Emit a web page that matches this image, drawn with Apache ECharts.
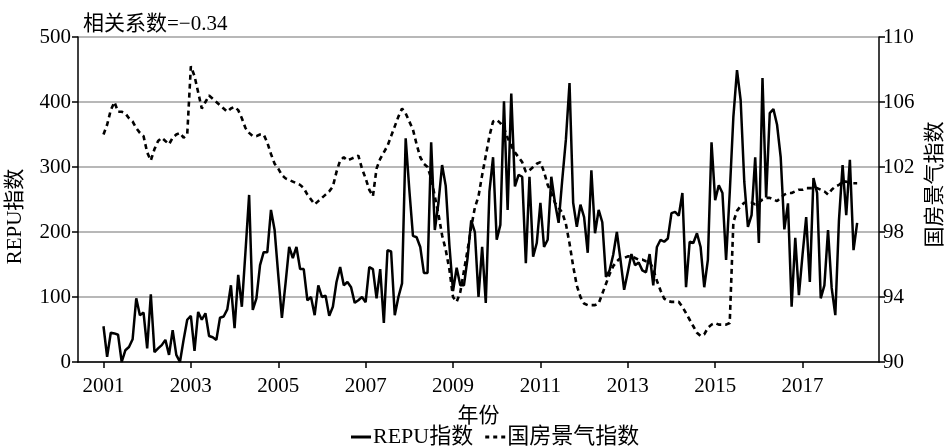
<!DOCTYPE html>
<html>
<head>
<meta charset="utf-8">
<script src="https://cdn.jsdelivr.net/npm/echarts@6/dist/echarts.min.js"></script>
<style>
  html, body { margin: 0; padding: 0; background: #fff; }
  #main { width: 946px; height: 447px; }
</style>
</head>
<body>
<div id="main"></div>
<script>
// 月度数据：2001-01 ~ 2018-04
const startYear = 2001;
const padBefore = 7;  // 2000-06 ~ 2000-12 空位
const padAfter = 6;   // 2018-05 ~ 2018-10 空位
const yearLabels = ['2001', '2003', '2005', '2007', '2009', '2011', '2013', '2015', '2017'];

const repu = [
  55, 8, 45, 44, 42, 0, 18, 23, 35, 98, 72, 76,
  21, 104, 15, 21, 26, 34, 11, 49, 11, 0, 34, 65,
  71, 17, 77, 65, 75, 40, 38, 34, 68, 70, 81, 118,
  52, 134, 85, 170, 257, 80, 98, 149, 169, 169, 234, 203,
  134, 68, 121, 177, 160, 177, 143, 143, 95, 100, 72, 118,
  100, 102, 71, 85, 123, 146, 118, 123, 115, 91, 95, 100,
  92, 146, 143, 98, 143, 60, 172, 170, 72, 100, 121, 344,
  265, 194, 192, 177, 137, 137, 338, 203, 245, 303, 271, 180,
  109, 145, 118, 118, 160, 218, 200, 100, 177, 91, 262, 315,
  188, 211, 401, 234, 413, 270, 288, 285, 152, 285, 162, 183,
  245, 177, 188, 285, 245, 214, 280, 342, 429, 245, 208, 242,
  223, 168, 295, 198, 234, 215, 131, 141, 165, 200, 157, 111,
  138, 166, 149, 153, 141, 138, 166, 118, 177, 188, 185, 190,
  229, 231, 225, 260, 115, 185, 183, 198, 177, 115, 157, 338,
  249, 272, 260, 157, 260, 377, 449, 403, 277, 208, 226, 315,
  183, 437, 253, 383, 389, 365, 315, 204, 244, 85, 191, 103,
  165, 223, 123, 283, 260, 98, 118, 203, 114, 72, 218, 303,
  226, 311, 172, 214
];

const housing = [
  104.0, 104.6, 105.5, 106.0, 105.4, 105.4, 105.3, 105.0, 104.8, 104.4, 104.1, 103.9,
  102.9, 102.4, 103.1, 103.6, 103.8, 103.6, 103.4, 103.8, 104.0, 104.1, 103.8, 104.0,
  108.2, 107.6, 106.6, 105.6, 106.0, 106.4, 106.2, 106.0, 105.8, 105.6, 105.4, 105.6,
  105.7, 105.5, 105.0, 104.4, 104.1, 103.9, 103.9, 104.0, 104.0, 103.5, 102.8, 102.2,
  101.9, 101.5, 101.3, 101.2, 101.1, 101.0, 100.9, 100.7, 100.3, 100.0, 99.7, 99.9,
  100.1, 100.3, 100.5, 100.8, 101.7, 102.4, 102.6, 102.4, 102.5, 102.6, 102.7, 101.9,
  101.3, 100.6, 100.2, 101.9, 102.5, 102.9, 103.3, 103.9, 104.5, 105.1, 105.6, 105.3,
  104.8, 104.3, 103.4, 102.6, 102.2, 102.0, 101.3, 100.2, 99.1, 97.8, 96.9, 95.7,
  94.0, 93.7, 94.3, 95.6, 96.9, 98.3, 99.5, 100.2, 101.5, 102.7, 103.9, 104.8,
  104.9, 104.7, 104.4, 103.8, 103.3, 102.9, 102.6, 102.3, 101.7, 101.8, 102.0, 102.2,
  102.3, 101.7, 100.9, 100.4, 99.8, 99.5, 99.2, 98.5, 97.3, 95.9, 94.7, 94.0,
  93.6, 93.5, 93.5, 93.5, 93.6, 94.2, 94.8, 95.4, 95.9, 96.2, 96.4, 96.4,
  96.5, 96.5, 96.4, 96.3, 96.3, 96.2, 96.2, 95.7, 95.0, 94.4, 93.9, 93.75,
  93.7, 93.7, 93.7, 93.4, 93.0, 92.6, 92.2, 91.8, 91.6, 91.7, 92.1, 92.3,
  92.4, 92.3, 92.3, 92.3, 92.4, 98.6, 99.3, 99.6, 99.8, 99.8, 99.8, 99.7,
  99.8, 100.0, 100.1, 100.1, 100.0, 99.9, 100.1, 100.3, 100.4, 100.4, 100.5, 100.6,
  100.6, 100.7, 100.7, 100.7, 100.7, 100.6, 100.5, 100.3, 100.6, 100.8, 100.9, 101.1,
  101.1, 101.0, 101.0, 101.0
];

(function (w, d) {
  const font = "'Liberation Serif', 'Noto Sans CJK SC', serif";
  const total = padBefore + repu.length + padAfter;
  // 图例图标：实线 / 虚线
  const iconSolid = 'path://M0,0L20,0L20,3L0,3Z';
  const iconDash = 'path://M0,0L4,0L4,3L0,3ZM8,0L12,0L12,3L8,3ZM16,0L20,0L20,3L16,3Z';

  /* 类目：年-月 */
  const categories = [];
  for (let i = 0; i < total; i++) {
    const m = i - padBefore;
    const y = startYear + Math.floor(m / 12);
    const mon = ((m % 12) + 12) % 12 + 1;
    categories.push(y + '-' + String(mon).padStart(2, '0'));
  }

  function pad(arr) {
    return new Array(padBefore).fill(null).concat(arr, new Array(padAfter).fill(null));
  }

  function isTickCat(index) {
    const [y, mon] = categories[index].split('-');
    return mon === '01' && yearLabels.indexOf(y) > -1;
  }

  const chart = echarts.init(d.getElementById('main'));
  chart.setOption({
    animation: false,
    textStyle: { fontFamily: font, color: '#000' },
    title: {
      text: '相关系数=−0.34',
      left: 78, top: 9,
      textStyle: { fontFamily: font, fontSize: 21, fontWeight: 'normal', color: '#000' }
    },
    grid: { left: 78, right: 67, top: 37, bottom: 85, outerBoundsMode: 'none' },
    legend: {
      bottom: -6, left: 346,
      itemWidth: 20, itemHeight: 3, itemGap: 12,
      textStyle: { fontFamily: font, fontSize: 22, color: '#000', padding: [0, 0, 0, -3] },
      data: [
        { name: 'REPU指数', icon: iconSolid },
        { name: '国房景气指数', icon: iconDash }
      ]
    },
    xAxis: {
      type: 'category',
      data: categories,
      boundaryGap: false,
      offset: 6,
      name: '年份',
      nameLocation: 'middle',
      nameGap: 38,
      nameTextStyle: { fontFamily: font, fontSize: 21, color: '#000' },
      axisLine: { lineStyle: { color: '#000', width: 1.5 } },
      axisTick: { interval: isTickCat, length: 6, lineStyle: { color: '#000', width: 1.5 } },
      axisLabel: {
        interval: isTickCat,
        formatter: v => v.slice(0, 4),
        fontFamily: font, fontSize: 21, color: '#000', margin: 8
      },
      splitLine: { show: false }
    },
    yAxis: [
      {
        type: 'value',
        min: 0, max: 500, interval: 100,
        name: 'REPU指数',
        nameLocation: 'middle',
        nameGap: 52,
        nameTextStyle: { fontFamily: font, fontSize: 21, color: '#000', padding: [0, 34, 0, 0] },
        axisLine: { show: true, lineStyle: { color: '#000', width: 1.5 } },
        axisTick: { show: true, length: 6, lineStyle: { color: '#000', width: 1.5 } },
        axisLabel: { fontFamily: font, fontSize: 21, color: '#000', margin: 7 },
        splitLine: { show: true, lineStyle: { color: '#a0a0a0', width: 1.5 } }
      },
      {
        type: 'value',
        position: 'right',
        min: 90, max: 110, interval: 4,
        name: '国房景气指数',
        nameLocation: 'middle',
        nameRotate: 90,
        nameGap: 46,
        nameTextStyle: { fontFamily: font, fontSize: 21, color: '#000', padding: [0, 0, 0, 30] },
        axisLine: { show: true, lineStyle: { color: '#000', width: 1.5 } },
        axisTick: { show: true, length: 6, lineStyle: { color: '#000', width: 1.5 } },
        axisLabel: { fontFamily: font, fontSize: 21, color: '#000', margin: 4 },
        splitLine: { show: false }
      }
    ],
    series: [
      {
        name: 'REPU指数',
        type: 'line',
        yAxisIndex: 0,
        data: pad(repu),
        symbol: 'none',
        z: 3,
        lineStyle: { color: '#000', width: 2.5, type: 'solid' },
        itemStyle: { color: '#000' }
      },
      {
        name: '国房景气指数',
        type: 'line',
        yAxisIndex: 1,
        data: pad(housing),
        symbol: 'none',
        z: 2,
        lineStyle: { color: '#000', width: 2.6, type: [5, 4] },
        itemStyle: { color: '#000' }
      }
    ]
  });
})(window, document);
</script>
</body>
</html>
